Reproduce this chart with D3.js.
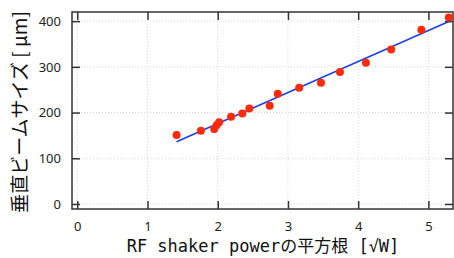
<!DOCTYPE html>
<html>
<head>
<meta charset="utf-8">
<script src="https://cdn.jsdelivr.net/npm/d3@7.9.0/dist/d3.min.js"></script>
<style>
  html, body { margin: 0; padding: 0; background: #fff; }
  svg { display: block; }
  .tick text { font-family: "Noto Sans", "DejaVu Sans", sans-serif; font-size: 13px; fill: #222; }
</style>
</head>
<body>
<div id="chart"></div>
<script>
/* ---------- data --------- */
const sqrtPower = [1.414, 1.76, 1.95, 1.985, 2.02, 2.19, 2.35, 2.45, 2.74, 2.855, 3.16, 3.47, 3.74, 4.11, 4.47, 4.90, 5.29];
const beamSize  = [151,   160,  164,  172,   179,  191,  198,  209,  215,  241,   254,  265,  289,  309,  338,  381,  408];
const fitX = [1.414, 5.29];
const fitY = [136, 399];
const xTicks = [0, 1, 2, 3, 4, 5];
const yTicks = [0, 100, 200, 300, 400];

/* ---------- layout --------- */
const W = 454, H = 258;
const area = { l: 72, r: 453, t: 12, b: 209 };

const svg = d3.select('#chart').append('svg')
  .attr('width', W).attr('height', H);

const x = d3.scaleLinear().domain([-0.075, 5.35]).range([area.l, area.r]);
const y = d3.scaleLinear().domain([-11, 420]).range([area.b, area.t]);

// dotted grid
const grid = svg.append('g').attr('stroke', '#d8d8d8').attr('stroke-dasharray', '1,2').attr('stroke-width', 1);
grid.selectAll('line.gx').data(xTicks).join('line')
  .attr('x1', d => x(d)).attr('x2', d => x(d))
  .attr('y1', area.t).attr('y2', area.b);
grid.selectAll('line.gy').data(yTicks).join('line')
  .attr('x1', area.l).attr('x2', area.r)
  .attr('y1', d => y(d)).attr('y2', d => y(d));

// axes with inward ticks
const tl = 8;
const ax = svg.append('g').attr('class', 'axes');
ax.append('g').attr('transform', `translate(0,${area.b})`)
  .call(d3.axisBottom(x).tickValues(xTicks).tickFormat(d3.format('d')).tickSize(-tl).tickPadding(tl + 5));
ax.append('g').attr('transform', `translate(0,${area.t})`)
  .call(d3.axisTop(x).tickValues(xTicks).tickSize(-tl).tickFormat(''));
ax.append('g').attr('transform', `translate(${area.l},0)`)
  .call(d3.axisLeft(y).tickValues(yTicks).tickSize(-tl).tickPadding(tl + 3));
ax.append('g').attr('transform', `translate(${area.r},0)`)
  .call(d3.axisRight(y).tickValues(yTicks).tickSize(-tl).tickFormat(''));
ax.selectAll('.domain').remove();
ax.selectAll('.tick line').attr('stroke', '#333').attr('stroke-width', 1.5);

// frame
svg.append('rect')
  .attr('x', area.l).attr('y', area.t)
  .attr('width', area.r - area.l).attr('height', area.b - area.t)
  .attr('fill', 'none').attr('stroke', '#333').attr('stroke-width', 1.5);

// fit line
svg.append('line')
  .attr('x1', x(fitX[0])).attr('y1', y(fitY[0]))
  .attr('x2', x(fitX[1])).attr('y2', y(fitY[1]))
  .attr('stroke', '#1f3fe6').attr('stroke-width', 1.6);

// points
svg.append('g').selectAll('circle')
  .data(sqrtPower.map((v, i) => [v, beamSize[i]]))
  .join('circle')
  .attr('cx', d => x(d[0])).attr('cy', d => y(d[1]))
  .attr('r', 4).attr('fill', '#ff2a0a');

// axis titles
svg.append('text')
  .attr('x', 263).attr('y', 252)
  .attr('text-anchor', 'middle')
  .style('font-family', '"DejaVu Sans Mono", "Noto Sans CJK JP", monospace')
  .style('font-size', '17px').attr('fill', '#111')
  .text('RF shaker powerの平方根 [√W]');

svg.append('text')
  .attr('transform', 'translate(27,112) rotate(-90)')
  .attr('text-anchor', 'middle')
  .style('font-family', '"Noto Sans CJK JP", sans-serif')
  .style('font-size', '19px').attr('fill', '#111')
  .text('垂直ビームサイズ [ μm]');
</script>
</body>
</html>
